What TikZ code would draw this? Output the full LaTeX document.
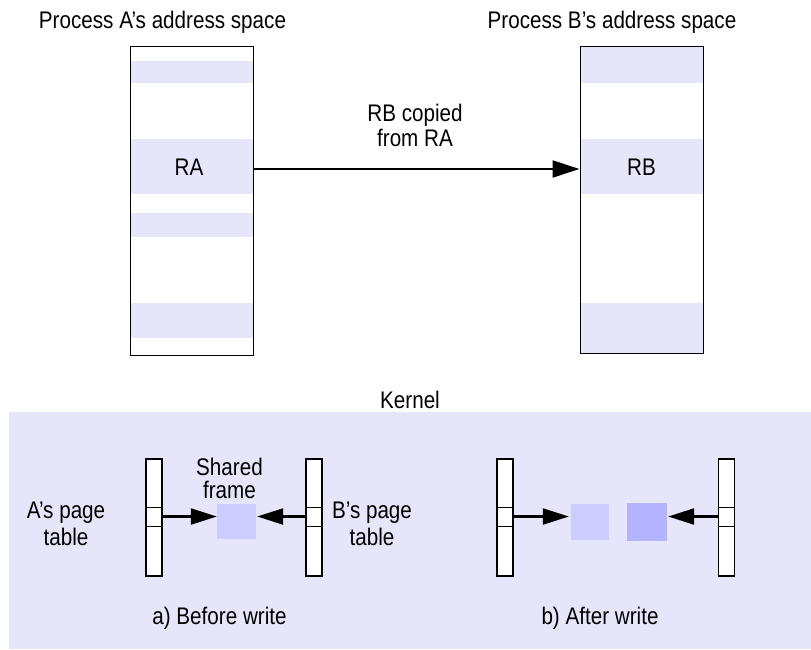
\documentclass[tikz,border=0pt]{standalone}
\usepackage{fontspec}
\setmainfont{Liberation Sans}[FakeStretch=0.86]
\usetikzlibrary{arrows.meta}
\definecolor{lav}{RGB}{230,230,250}
\definecolor{frameA}{RGB}{204,204,255}
\definecolor{frameB}{RGB}{179,179,255}
\tikzset{
  lbl/.style={font=\fontsize{24}{25}\selectfont, inner sep=0pt, anchor=base, align=center},
  membox/.style={draw=black, line width=1pt, minimum width=123pt, inner sep=0pt},
  band/.style={fill=lav, minimum width=122pt, inner sep=0pt},
  ptab/.style={draw=black, line width=1.2pt, fill=white, minimum width=16pt, minimum height=117pt, inner sep=0pt},
  pcell/.style={draw=black, line width=1pt, minimum width=16pt, minimum height=19pt, inner sep=0pt},
  pframe/.style={inner sep=0pt},
  bigarrow/.style={line width=2.2pt, -{Triangle[length=27pt,width=17pt]}},
  smallarrow/.style={line width=2.2pt, -{Triangle[length=26pt,width=16pt]}},
}
\begin{document}
\begin{tikzpicture}[x=1pt,y=-1pt]
\useasboundingbox (0,0) rectangle (811,649);
\fill[white] (0,0) rectangle (811,649);

% titles
\node[lbl] (titleA) at (162.5,28) {Process A’s address space};
\node[lbl] (titleB) at (612,28) {Process B’s address space};

% process A address space
\node[band, minimum height=22pt] (a1) at (191.5,72) {};
\node[band, minimum height=55pt] (ra) at (191.5,166.5) {};
\node[lbl] (ratext) at (189,175) {RA};
\node[band, minimum height=24pt] (a3) at (191.5,225) {};
\node[band, minimum height=35pt] (a4) at (191.5,320.5) {};
\node[membox, minimum height=309pt] (boxA) at (191.5,200.5) {};

% process B address space
\node[band, minimum height=37pt] (b1) at (641.5,64.5) {};
\node[band, minimum height=55pt] (rb) at (641.5,166.5) {};
\node[lbl] (rbtext) at (641.5,175) {RB};
\node[band, minimum height=50pt] (b3) at (641.5,328) {};
\node[membox, minimum height=307pt] (boxB) at (641.5,199.5) {};

% copy arrow
\draw[bigarrow] ([yshift=-2.5pt]boxA.east |- ra.east) -- ([yshift=-2.5pt]boxB.west |- rb.west);
\node[lbl] (copylbl) at (415,146) {RB copied\\from RA};

% kernel
\node[lbl] (kernel) at (410,408) {Kernel};
\fill[lav] (9,412) rectangle (811,649);

% a) before write
\node[ptab] (tA) at (154,517.5) {};
\node[pcell] (cA) at (154,516.5) {};
\node[ptab] (tB) at (314,517.5) {};
\node[pcell] (cB) at (314,516.5) {};
\node[pframe, fill=frameA, minimum width=39pt, minimum height=35pt] (sf) at (236.5,521.5) {};
\draw[smallarrow] (cA.east) -- (sf.west |- cA.east);
\draw[smallarrow] (cB.west) -- ([xshift=1pt]sf.east |- cB.west);
\node[lbl, font=\fontsize{24}{23}\selectfont] (sflbl) at (229.5,498) {Shared\\frame};
\node[lbl, font=\fontsize{24}{27}\selectfont] (albl) at (66,545) {A’s page\\table};
\node[lbl, font=\fontsize{24}{27}\selectfont] (blbl) at (372,545) {B’s page\\table};
\node[lbl] (before) at (219.5,624) {a) Before write};

% b) after write
\node[ptab] (tC) at (505,517.5) {};
\node[pcell] (cC) at (505,516.5) {};
\node[ptab] (tD) at (726.5,517.5) {};
\node[pcell] (cD) at (726.5,516.5) {};
\node[pframe, fill=frameA, minimum width=38pt, minimum height=36pt] (f1) at (590,522) {};
\node[pframe, fill=frameB, minimum width=40pt, minimum height=38pt] (f2) at (647,522) {};
\draw[smallarrow] (cC.east) -- ([xshift=-2pt]f1.west |- cC.east);
\draw[smallarrow] (cD.west) -- ([xshift=1pt]f2.east |- cD.west);
\node[lbl] (after) at (600,624) {b) After write};
\end{tikzpicture}
\end{document}
